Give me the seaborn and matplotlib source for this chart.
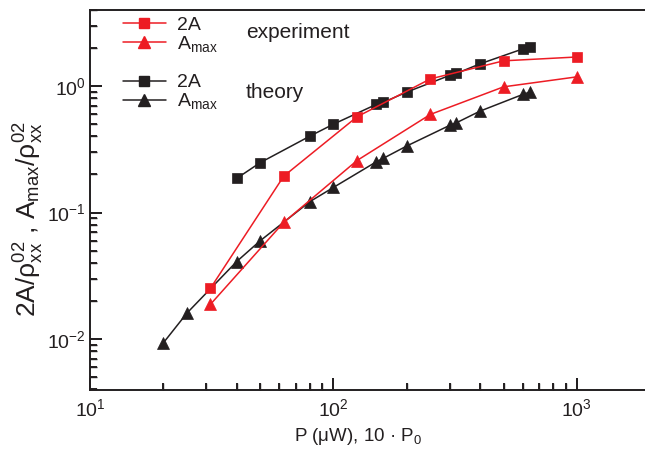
import numpy as np
import pandas as pd
import matplotlib
matplotlib.use("Agg")
import matplotlib.pyplot as plt
from matplotlib.lines import Line2D
from matplotlib.path import Path
from matplotlib.ticker import LogLocator, NullFormatter
import seaborn as sns

# ---- data ----
exp_x = [31.25, 62.5, 125, 250, 500, 1000]
exp_2A = [0.0252, 0.194, 0.572, 1.14, 1.585, 1.70]
exp_Amax = [0.0188, 0.0837, 0.258, 0.597, 0.987, 1.184]

th2A_x = [40, 50, 80, 100, 150, 160, 200, 300, 320, 400, 600, 640]
th_2A = [0.186, 0.248, 0.402, 0.50, 0.717, 0.743, 0.897, 1.215, 1.26, 1.50, 1.97, 2.045]

thA_x = [20, 25, 40, 50, 80, 100, 150, 160, 200, 300, 320, 400, 600, 640]
th_Amax = [0.0093, 0.016, 0.0409, 0.0598, 0.122, 0.158, 0.252, 0.268, 0.336,
           0.489, 0.513, 0.634, 0.86, 0.897]

legend_labels = ["2A", "A$_{\\rm max}$"]
group_labels = ["experiment", "theory"]

RED = "#ED1C24"
BLACK = "#231F20"

sns.set_theme(style="ticks")
rc = plt.rcParams
rc["font.family"] = ["Liberation Sans", "DejaVu Sans"]
rc["mathtext.fontset"] = "custom"
rc["mathtext.rm"] = "Liberation Sans"
rc["mathtext.it"] = "Liberation Sans"
rc["mathtext.bf"] = "Liberation Sans:bold"
rc["axes.axisbelow"] = False
for a in ("xtick", "ytick"):
    rc[f"{a}.direction"] = "in"
    rc[f"{a}.major.size"] = 8.6
    rc[f"{a}.minor.size"] = 4.7
    rc[f"{a}.major.width"] = 1.1
    rc[f"{a}.minor.width"] = 1.0
    rc[f"{a}.color"] = BLACK
    rc[f"{a}.labelcolor"] = BLACK
    rc[f"{a}.labelsize"] = 14
    rc[f"{a}.minor.visible"] = True
rc["xtick.bottom"] = True
rc["xtick.top"] = False
rc["ytick.left"] = True
rc["ytick.right"] = False
rc["xtick.major.pad"] = 6
rc["ytick.major.pad"] = 3

W, H = 645, 449
L, R, B, T = 90, 645, 390, 10
fig = plt.figure(figsize=(W / 100, H / 100), dpi=100)
ax = fig.add_axes([L / W, 1 - B / H, (R - L) / W, (B - T) / H])

lw = 1.1
msq = 6.8
mtr = 8.5

def draw(x, y, color, marker, ms):
    df = pd.DataFrame({"x": x, "y": y})
    sns.lineplot(data=df, x="x", y="y", ax=ax, color=color, marker=marker,
                 markersize=ms, markeredgecolor=color, markeredgewidth=0.5,
                 linewidth=lw, estimator=None, sort=False, legend=False)

draw(thA_x, th_Amax, BLACK, "^", mtr)
draw(th2A_x, th_2A, BLACK, "s", msq)
draw(exp_x, exp_Amax, RED, "^", mtr)
draw(exp_x, exp_2A, RED, "s", msq)

ax.set_xscale("log")
ax.set_yscale("log")
ax.set_xlim(10, 1905)
ax.set_ylim(0.00395, 4.0)

for a in (ax.xaxis, ax.yaxis):
    a.set_major_locator(LogLocator(base=10, numticks=10))
    a.set_minor_locator(LogLocator(base=10, subs=np.arange(2, 10), numticks=30))
    a.set_minor_formatter(NullFormatter())

# inward tick marks, drawn as one-sided line markers at the locators' positions
x0, x1 = ax.get_xlim()
y0, y1 = ax.get_ylim()
up_tick = Path([(0.0, 0.0), (0.0, 1.0)], [Path.MOVETO, Path.LINETO])
right_tick = Path([(0.0, 0.0), (1.0, 0.0)], [Path.MOVETO, Path.LINETO])
maj_ms, min_ms = 2 * 8.6, 2 * 4.7   # marker spans half its size
tick_w = 1.4

def in_range(locs, lo, hi):
    return [v for v in locs if lo <= v <= hi]

xmaj = in_range(ax.xaxis.get_majorticklocs(), x0, x1)
xmin = in_range(ax.xaxis.get_minorticklocs(), x0, x1)
ymaj = in_range(ax.yaxis.get_majorticklocs(), y0, y1)
ymin = in_range(ax.yaxis.get_minorticklocs(), y0, y1)

for locs, ms in ((xmaj, maj_ms), (xmin, min_ms)):
    ax.plot(locs, [y0] * len(locs), linestyle="none", marker=up_tick, markersize=ms,
            markeredgewidth=tick_w, markeredgecolor=BLACK, color=BLACK,
            clip_on=False, zorder=4, scalex=False, scaley=False)
for locs, ms in ((ymaj, maj_ms), (ymin, min_ms)):
    ax.plot([x0] * len(locs), locs, linestyle="none", marker=right_tick, markersize=ms,
            markeredgewidth=tick_w, markeredgecolor=BLACK, color=BLACK,
            clip_on=False, zorder=4, scalex=False, scaley=False)
ax.set_xlim(x0, x1)
ax.set_ylim(y0, y1)

for s in ["left", "bottom", "top"]:
    ax.spines[s].set_visible(True)
    ax.spines[s].set_linewidth(1.4)
    ax.spines[s].set_color(BLACK)
ax.spines["right"].set_visible(False)

ax.set_xlabel("P (μW), 10 · P$_0$", fontsize=13.5, color=BLACK, labelpad=4)
ax.xaxis.label.set_x((358 - L) / (R - L))
ax.set_ylabel("2A/ρ$_{\\rm xx}^{02}$ , A$_{\\rm max}$/ρ$_{\\rm xx}^{02}$", fontsize=19,
              color=BLACK, labelpad=1)
ax.yaxis.label.set_y(1 - (219 - T) / (B - T))

# legends
def mk(color, marker, ms):
    return Line2D([], [], color=color, marker=marker, markersize=ms, linewidth=lw,
                  markeredgecolor=color)

leg_kw = dict(loc="upper left", frameon=False, fontsize=14, handlelength=2.2,
              handletextpad=0.55, labelspacing=0.0, borderpad=0.2)
leg1 = ax.legend([mk(RED, "s", msq), mk(RED, "^", mtr)], legend_labels,
                 bbox_to_anchor=(0.035, 1.02), **leg_kw)
ax.add_artist(leg1)
leg2 = ax.legend([mk(BLACK, "s", msq), mk(BLACK, "^", mtr)], legend_labels,
                 bbox_to_anchor=(0.035, 0.868), **leg_kw)
for lg in (leg1, leg2):
    for t in lg.get_texts():
        t.set_color(BLACK)

ax.text((246 - L) / (R - L), 1 - (33 - T) / (B - T), group_labels[0],
        transform=ax.transAxes, fontsize=15, va="center", ha="left", color=BLACK)
ax.text((246 - L) / (R - L), 1 - (92 - T) / (B - T), group_labels[1],
        transform=ax.transAxes, fontsize=15, va="center", ha="left", color=BLACK)

fig.savefig("out.png", dpi=100)
